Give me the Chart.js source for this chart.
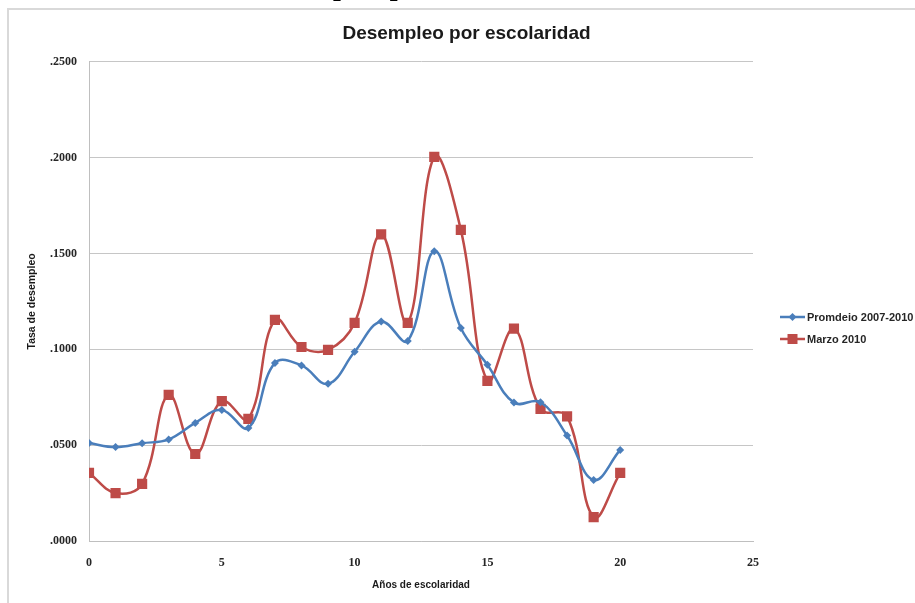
<!DOCTYPE html>
<html>
<head>
<meta charset="utf-8">
<script src="https://cdn.jsdelivr.net/npm/chart.js@4.4.1/dist/chart.umd.min.js"></script>
<style>
  html, body { margin: 0; padding: 0; background: #ffffff; overflow: hidden; }
  #wrap { position: relative; width: 915px; height: 603px; }
</style>
</head>
<body>
<div id="wrap"><canvas id="c" width="915" height="603"></canvas></div>
<script>
// ---- data ----
const years = [0, 1, 2, 3, 4, 5, 6, 7, 8, 9, 10, 11, 12, 13, 14, 15, 16, 17, 18, 19, 20];
const promedio = [0.0511, 0.0490, 0.0510, 0.0530, 0.0616, 0.0684, 0.0590, 0.0929, 0.0916, 0.0820, 0.0987, 0.1145, 0.1044, 0.1512, 0.1111, 0.0919, 0.0722, 0.0724, 0.0550, 0.0318, 0.0475];
const marzo = [0.0355, 0.0250, 0.0298, 0.0762, 0.0454, 0.0730, 0.0637, 0.1154, 0.1012, 0.0997, 0.1138, 0.1600, 0.1138, 0.2004, 0.1623, 0.0835, 0.1108, 0.0689, 0.0650, 0.0125, 0.0355];
const seriesNames = ['Promdeio 2007-2010', 'Marzo 2010'];
const chartTitle = 'Desempleo por escolaridad';
const xTitle = 'Años de escolaridad';
const yTitle = 'Tasa de desempleo';
const clippedHeading = 'Desempleo por escolaridad';

const blue = '#4a7ebb';
const red = '#be4b48';

const frame = {
  id: 'frame',
  beforeDraw(chart) {
    const ctx = chart.ctx;
    ctx.save();
    ctx.strokeStyle = '#d9d9d9';
    ctx.lineWidth = 2;
    ctx.beginPath();
    ctx.moveTo(8, 603);
    ctx.lineTo(8, 9);
    ctx.lineTo(915, 9);
    ctx.stroke();
    // clipped heading from the page above (only descenders visible)
    ctx.font = 'bold 28px "Liberation Serif"';
    ctx.fillStyle = '#000000';
    ctx.textBaseline = 'alphabetic';
    const pre = ctx.measureText('Desem').width;
    ctx.fillText(clippedHeading, 333 - pre, -5);
    ctx.restore();
  }
};

const legendLines = {
  id: 'legendLines',
  afterDraw(chart) {
    const ctx = chart.ctx;
    ctx.save();
    const ys = [317, 339];
    chart.data.datasets.forEach((ds, i) => {
      const y = ys[i];
      ctx.strokeStyle = ds.borderColor;
      ctx.lineWidth = 2.5;
      ctx.beginPath();
      ctx.moveTo(780, y);
      ctx.lineTo(805, y);
      ctx.stroke();
      ctx.fillStyle = ds.backgroundColor;
      ctx.beginPath();
      if (ds.pointStyle === 'rectRot') {
        ctx.moveTo(792.5, y - 4);
        ctx.lineTo(796.5, y);
        ctx.lineTo(792.5, y + 4);
        ctx.lineTo(788.5, y);
        ctx.closePath();
      } else {
        ctx.rect(787.5, y - 5, 10, 10);
      }
      ctx.fill();
      ctx.fillStyle = '#262626';
      ctx.font = 'bold 11px "Liberation Sans"';
      ctx.textBaseline = 'middle';
      ctx.textAlign = 'left';
      ctx.fillText(ds.label, 807, y + 0.5);
    });
    ctx.restore();
  }
};

const toPts = (arr) => years.map((x, i) => ({ x: x, y: arr[i] }));

new Chart(document.getElementById('c'), {
  type: 'line',
  data: {
    datasets: [
      {
        label: seriesNames[0],
        data: toPts(promedio),
        borderColor: blue,
        backgroundColor: blue,
        borderWidth: 2.5,
        pointStyle: 'rectRot',
        pointRadius: 4,
        pointBorderWidth: 0,
        tension: 0.4,
        yAxisID: 'y'
      },
      {
        label: seriesNames[1],
        data: toPts(marzo),
        borderColor: red,
        backgroundColor: red,
        borderWidth: 2.5,
        pointStyle: 'rect',
        pointRadius: 7.2,
        pointBorderWidth: 0,
        tension: 0.4,
        yAxisID: 'y'
      }
    ]
  },
  options: {
    responsive: false,
    animation: false,
    devicePixelRatio: 1,
    layout: { padding: { left: 18, right: 0, top: 0, bottom: 0 } },
    plugins: {
      legend: { display: false },
      tooltip: { enabled: false },
      title: {
        display: true,
        text: chartTitle,
        color: '#1a1a1a',
        font: { family: '"Liberation Sans"', size: 19, weight: 'bold', lineHeight: 1.2 },
        padding: { top: 22, bottom: 17 }
      }
    },
    scales: {
      x: {
        type: 'linear',
        min: 0,
        max: 25,
        ticks: {
          stepSize: 5,
          padding: 15,
          color: '#262626',
          font: { family: '"Liberation Serif"', size: 12, weight: 'bold' },
          maxRotation: 0
        },
        grid: { display: false, drawTicks: false },
        border: { display: true, color: '#bfbfbf', width: 1 },
        title: {
          display: true,
          text: xTitle,
          color: '#1a1a1a',
          font: { family: '"Liberation Sans"', size: 10, weight: 'bold', lineHeight: 1.2 },
          padding: { top: 0, bottom: 12 }
        },
        afterFit(s) { s.height = 62; }
      },
      y: {
        type: 'linear',
        position: 'left',
        min: 0,
        max: 0.25,
        ticks: {
          stepSize: 0.05,
          padding: 12,
          color: '#262626',
          font: { family: '"Liberation Serif"', size: 12, weight: 'bold' },
          callback: (v) => v.toFixed(4).replace(/^0/, '')
        },
        grid: { color: '#c6c6c6', lineWidth: 1, drawTicks: false },
        border: { display: true, color: '#bfbfbf', width: 1 },
        title: {
          display: true,
          text: yTitle,
          color: '#1a1a1a',
          font: { family: '"Liberation Sans"', size: 10.5, weight: 'bold', lineHeight: 1.2 },
          padding: { top: 8, bottom: 0 }
        },
        afterFit(s) { s.width = 71; }
      },
      legendSpace: {
        type: 'linear',
        position: 'right',
        display: true,
        grid: { display: false, drawTicks: false },
        border: { display: false },
        ticks: { display: false },
        afterFit(s) { s.width = 162; }
      }
    }
  },
  plugins: [frame, legendLines]
});
</script>
</body>
</html>
